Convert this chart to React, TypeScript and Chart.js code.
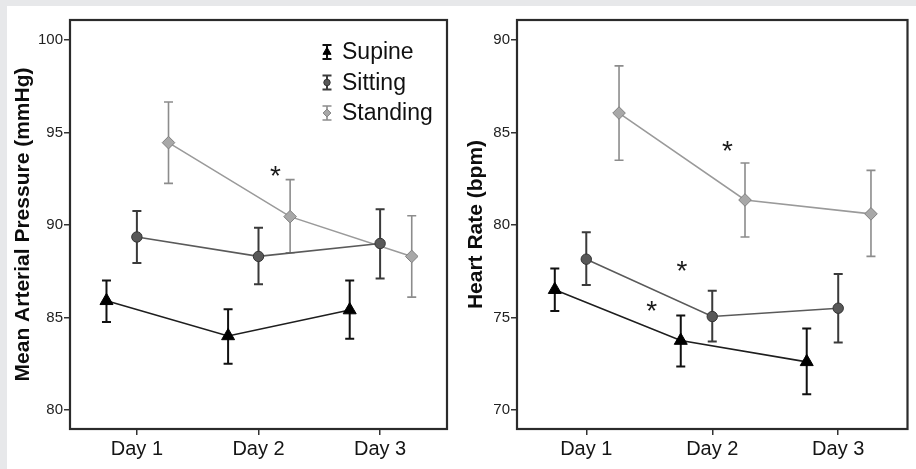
import React, { useEffect, useRef } from 'react';
import { Chart, registerables } from 'chart.js';
Chart.register(...registerables);

// ---------- data ----------
const DAYS = ['Day 1', 'Day 2', 'Day 3'];
const DAY_POS = [1, 2, 3];
const SERIES = ['Supine', 'Sitting', 'Standing'];

// Mean arterial pressure (mmHg)
const MAP_SUPINE = [85.9, 84.0, 85.4];
const MAP_SUPINE_LO = [84.75, 82.5, 83.85];
const MAP_SUPINE_HI = [87.0, 85.45, 87.0];
const MAP_SITTING = [89.35, 88.3, 89.0];
const MAP_SITTING_LO = [87.95, 86.8, 87.1];
const MAP_SITTING_HI = [90.75, 89.85, 90.85];
const MAP_STANDING = [94.45, 90.45, 88.3];
const MAP_STANDING_LO = [92.25, 88.5, 86.1];
const MAP_STANDING_HI = [96.65, 92.45, 90.5];
const MAP_TICKS = [80, 85, 90, 95, 100];
const MAP_STARS_X = [2.14];
const MAP_STARS_Y = [93.0];

// Heart rate (bpm)
const HR_SUPINE = [76.5, 73.75, 72.6];
const HR_SUPINE_LO = [75.35, 72.35, 70.85];
const HR_SUPINE_HI = [77.65, 75.1, 74.4];
const HR_SITTING = [78.15, 75.05, 75.5];
const HR_SITTING_LO = [76.75, 73.7, 73.65];
const HR_SITTING_HI = [79.6, 76.45, 77.35];
const HR_STANDING = [86.05, 81.35, 80.6];
const HR_STANDING_LO = [83.5, 79.35, 78.3];
const HR_STANDING_HI = [88.6, 83.35, 82.95];
const HR_TICKS = [70, 75, 80, 85, 90];
const HR_STARS_X = [2.12, 1.76, 1.52];
const HR_STARS_Y = [84.4, 77.9, 75.7];

// ---------- styles ----------
const FONT = '"Liberation Sans", Arial, Helvetica, sans-serif';
const DODGE = [-0.25, 0, 0.26];
const STYLES = [
  { line: '#1e1e1e', fill: '#000000', border: '#000000', bar: '#111111', barW: 2, shape: 'triangle', r: 7.5 },
  { line: '#5a5a5a', fill: '#585858', border: '#333333', bar: '#3a3a3a', barW: 2, shape: 'circle', r: 5.2 },
  { line: '#9a9a9a', fill: '#a8a8a8', border: '#808080', bar: '#8c8c8c', barW: 1.6, shape: 'rectRot', r: 6.3 },
];

function drawShape(ctx: CanvasRenderingContext2D, shape: string, x: number, y: number, r: number) {
  ctx.beginPath();
  if (shape === 'triangle') {
    ctx.moveTo(x, y - r);
    ctx.lineTo(x + r * 0.866, y + r * 0.5);
    ctx.lineTo(x - r * 0.866, y + r * 0.5);
    ctx.closePath();
  } else if (shape === 'circle') {
    ctx.arc(x, y, r, 0, Math.PI * 2);
  } else {
    ctx.moveTo(x, y - r);
    ctx.lineTo(x + r, y);
    ctx.lineTo(x, y + r);
    ctx.lineTo(x - r, y);
    ctx.closePath();
  }
  ctx.fill();
  ctx.stroke();
}

const framePlugin = {
  id: 'frame',
  afterDraw(chart: any) {
    const { ctx, chartArea: a } = chart;
    ctx.save();
    ctx.strokeStyle = '#2b2b2b';
    ctx.lineWidth = 2.2;
    ctx.strokeRect(a.left, a.top, a.right - a.left, a.bottom - a.top);
    ctx.restore();
  },
};

const errorBarPlugin = {
  id: 'errorBars',
  beforeDatasetsDraw(chart: any) {
    const { ctx } = chart;
    const xs = chart.scales.x;
    const ys = chart.scales.y;
    ctx.save();
    chart.data.datasets.forEach((ds: any, i: number) => {
      const st = STYLES[i];
      ctx.strokeStyle = st.bar;
      ctx.lineWidth = st.barW;
      ds.data.forEach((p: any, j: number) => {
        const px = xs.getPixelForValue(p.x);
        const lo = ys.getPixelForValue(ds.errLo[j]);
        const hi = ys.getPixelForValue(ds.errHi[j]);
        ctx.beginPath();
        ctx.moveTo(px, lo);
        ctx.lineTo(px, hi);
        ctx.moveTo(px - 4.5, lo);
        ctx.lineTo(px + 4.5, lo);
        ctx.moveTo(px - 4.5, hi);
        ctx.lineTo(px + 4.5, hi);
        ctx.stroke();
      });
    });
    ctx.restore();
  },
};

const starPlugin = {
  id: 'stars',
  afterDatasetsDraw(chart: any, _args: any, opts: any) {
    const { ctx } = chart;
    const xs = chart.scales.x;
    const ys = chart.scales.y;
    const size = 28;
    ctx.save();
    ctx.fillStyle = '#1a1a1a';
    ctx.font = `${size}px ${FONT}`;
    ctx.textAlign = 'center';
    ctx.textBaseline = 'alphabetic';
    (opts.xs || []).forEach((vx: number, k: number) => {
      const px = xs.getPixelForValue(vx);
      const py = ys.getPixelForValue(opts.ys[k]);
      ctx.fillText('*', px, py + size * 0.57);
    });
    ctx.restore();
  },
};

const legendPlugin = {
  id: 'customLegend',
  afterDatasetsDraw(chart: any, _args: any, opts: any) {
    if (!opts.show) return;
    const { ctx } = chart;
    ctx.save();
    chart.data.datasets.forEach((ds: any, i: number) => {
      const st = STYLES[i];
      const y = opts.y + i * opts.gap;
      const x = opts.x;
      ctx.strokeStyle = st.bar;
      ctx.lineWidth = st.barW;
      ctx.beginPath();
      ctx.moveTo(x, y - 7);
      ctx.lineTo(x, y + 7);
      ctx.moveTo(x - 4.5, y - 7);
      ctx.lineTo(x + 4.5, y - 7);
      ctx.moveTo(x - 4.5, y + 7);
      ctx.lineTo(x + 4.5, y + 7);
      ctx.stroke();
      ctx.fillStyle = st.fill;
      ctx.strokeStyle = st.border;
      ctx.lineWidth = 1;
      drawShape(ctx, st.shape, x, y, st.r * 0.62);
      ctx.fillStyle = '#111111';
      ctx.font = `23px ${FONT}`;
      ctx.textAlign = 'left';
      ctx.textBaseline = 'middle';
      ctx.fillText(ds.label, x + 15, y + 1);
    });
    ctx.restore();
  },
};

function makeDatasets(vals: number[][], los: number[][], his: number[][]) {
  return SERIES.map((name, i) => ({
    label: name,
    data: DAY_POS.map((d, j) => ({ x: d + DODGE[i], y: vals[i][j] })),
    errLo: los[i],
    errHi: his[i],
    showLine: true,
    borderColor: STYLES[i].line,
    borderWidth: 1.6,
    pointStyle: STYLES[i].shape,
    pointRadius: STYLES[i].r,
    pointBackgroundColor: STYLES[i].fill,
    pointBorderColor: STYLES[i].border,
    pointBorderWidth: 1,
  }));
}

function makeConfig(p: any): any {
  return {
    type: 'scatter',
    data: { datasets: makeDatasets(p.vals, p.los, p.his) },
    plugins: [errorBarPlugin, starPlugin, legendPlugin, framePlugin],
    options: {
      responsive: false,
      animation: false,
      devicePixelRatio: 1,
      layout: { padding: { top: 14, right: p.padRight, left: 0, bottom: 0 } },
      plugins: {
        legend: { display: false },
        tooltip: { enabled: false },
        stars: { xs: p.starsX, ys: p.starsY },
        customLegend: { show: p.legend, x: 320, y: 46, gap: 30.5 },
      },
      scales: {
        x: {
          type: 'linear',
          min: 0.45,
          max: 3.55,
          afterBuildTicks: (s: any) => { s.ticks = DAY_POS.map((v) => ({ value: v })); },
          afterFit: (s: any) => { s.height = 40; },
          ticks: {
            callback: (v: number) => DAYS[DAY_POS.indexOf(v)],
            font: { family: FONT, size: 20 },
            color: '#151515',
            padding: 2,
            maxRotation: 0,
            autoSkip: false,
          },
          grid: { drawOnChartArea: false, drawTicks: true, tickLength: 6, color: '#333', lineWidth: 1.5 },
          border: { display: false },
        },
        y: {
          type: 'linear',
          min: p.yMin,
          max: p.yMax,
          afterBuildTicks: (s: any) => { s.ticks = p.ticks.map((v: number) => ({ value: v })); },
          afterFit: (s: any) => { s.width = p.yWidth; },
          ticks: {
            font: { family: FONT, size: 15 },
            color: '#222',
            padding: 1,
            autoSkip: false,
          },
          grid: { drawOnChartArea: false, drawTicks: true, tickLength: 6, color: '#333', lineWidth: 1.5 },
          border: { display: false },
          title: {
            display: true,
            text: p.title,
            color: '#0d0d0d',
            font: { family: FONT, size: 21, weight: 'bold' },
            padding: { top: p.titlePad, bottom: 0 },
          },
        },
      },
    },
  };
}

function Panel(props: { cfg: any; width: number; height: number; left: number; top: number }) {
  const ref = useRef<HTMLCanvasElement>(null);
  useEffect(() => {
    if (!ref.current) return;
    const chart = new Chart(ref.current, props.cfg);
    return () => chart.destroy();
  }, []);
  return (
    <canvas
      ref={ref}
      width={props.width}
      height={props.height}
      style={{ position: 'absolute', left: props.left, top: props.top, width: props.width, height: props.height }}
    />
  );
}

export default function App() {
  const leftCfg = makeConfig({
    vals: [MAP_SUPINE, MAP_SITTING, MAP_STANDING],
    los: [MAP_SUPINE_LO, MAP_SITTING_LO, MAP_STANDING_LO],
    his: [MAP_SUPINE_HI, MAP_SITTING_HI, MAP_STANDING_HI],
    ticks: MAP_TICKS,
    yMin: 78.97,
    yMax: 101.08,
    starsX: MAP_STARS_X,
    starsY: MAP_STARS_Y,
    legend: true,
    padRight: 9,
    yWidth: 63,
    title: 'Mean Arterial Pressure (mmHg)',
    titlePad: 4,
  });
  const rightCfg = makeConfig({
    vals: [HR_SUPINE, HR_SITTING, HR_STANDING],
    los: [HR_SUPINE_LO, HR_SITTING_LO, HR_STANDING_LO],
    his: [HR_SUPINE_HI, HR_SITTING_HI, HR_STANDING_HI],
    ticks: HR_TICKS,
    yMin: 68.97,
    yMax: 91.08,
    starsX: HR_STARS_X,
    starsY: HR_STARS_Y,
    legend: false,
    padRight: 5,
    yWidth: 61,
    title: 'Heart Rate (bpm)',
    titlePad: 8,
  });
  return (
    <div style={{ position: 'fixed', left: 0, top: 0, width: 916, height: 469, background: '#e7e8ea', overflow: 'hidden' }}>
      <div style={{ position: 'absolute', left: 7, top: 6, width: 909, height: 463, background: '#ffffff' }} />
      <Panel cfg={leftCfg} width={449} height={463} left={7} top={6} />
      <Panel cfg={rightCfg} width={460} height={463} left={456} top={6} />
    </div>
  );
}
